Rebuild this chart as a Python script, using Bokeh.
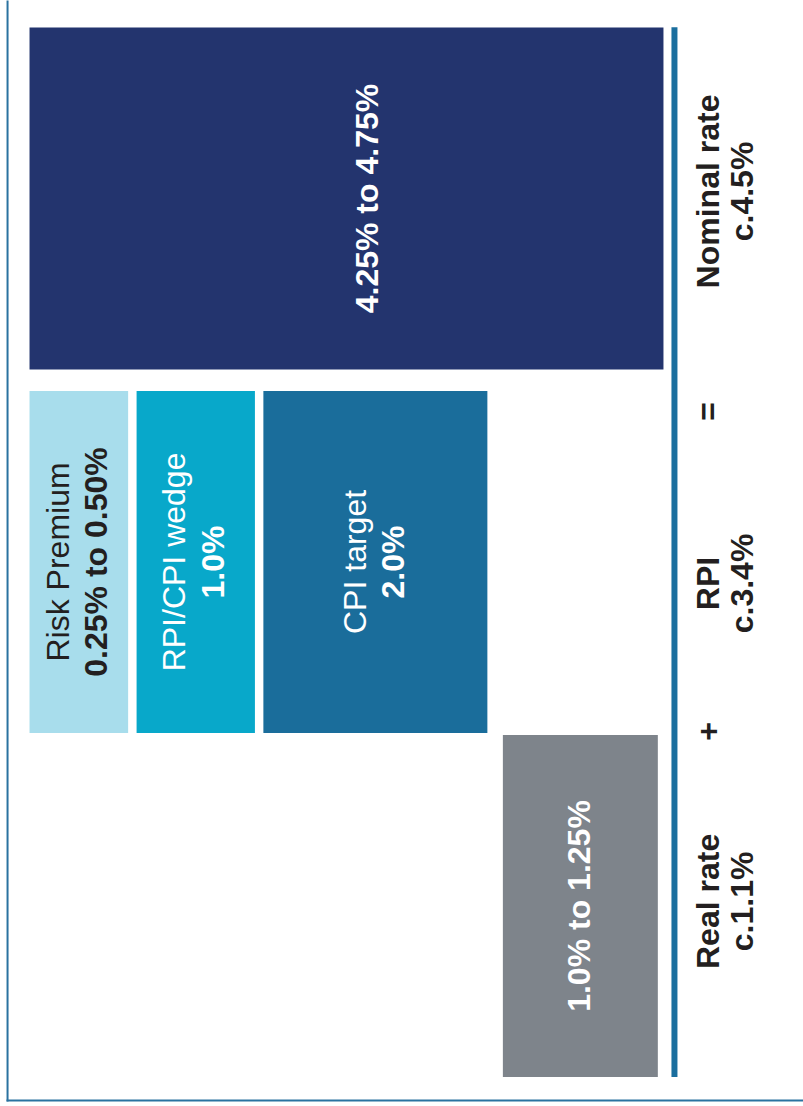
from math import pi
from bokeh.plotting import figure
from bokeh.models import ColumnDataSource, Range1d, FactorRange
from bokeh.transform import dodge
from bokeh.core.properties import value
from bokeh.embed import file_html
from bokeh.resources import INLINE

# ---------------- data ----------------
categories = ["Real rate", "RPI", "Nominal rate"]
category_values = ["c.1.1%", "c.3.4%", "c.4.5%"]
operators = ["+", "="]

segment_names = ["Real rate", "CPI target", "RPI/CPI wedge", "Risk Premium", "Nominal rate"]
segment_category = ["Real rate", "RPI", "RPI", "RPI", "Nominal rate"]
segment_start = [0.04, 1.25, 2.90, 3.80, 0.00]
segment_end = [1.14, 2.84, 3.74, 4.50, 4.50]
segment_titles = ["", "CPI target", "RPI/CPI wedge", "Risk Premium", ""]
segment_value_labels = ["1.0% to 1.25%", "2.0%", "1.0%", "0.25% to 0.50%", "4.25% to 4.75%"]

# ---------------- styles / layout ----------------
segment_colors = ["#7e848b", "#1a6d9b", "#08a8ca", "#a8ddec", "#23346e"]
segment_text_colors = ["white", "white", "white", "#231f20", "white"]
TS = 0.103  # text anchor correction
title_pos = [None, 2.087 + TS, 3.371 + TS, 4.194 + TS, None]
value_pos = [0.497 + TS, 1.817 + TS, 3.094 + TS, 3.925 + TS, 2.001 + TS]
segment_dy = [0.0, -0.024, -0.024, -0.024, 0.007]
cat_label_dy = [0.013, -0.085, 0.027]
LINE1 = -0.419 + TS
LINE2 = -0.660 + TS
FONT = value("Liberation Sans")
DARK = "#231f20"
AXIS_BLUE = "#1a6e9e"
BORDER = "#2a72a0"

p = figure(width=803, height=1106, output_backend="svg", toolbar_location=None,
           title=None,
           x_range=Range1d(start=4.706, end=-0.994),
           y_range=FactorRange(factors=categories, range_padding=0.0688,
                               range_padding_units="absolute"),
           x_axis_location=None, y_axis_location=None, min_border=0,
           background_fill_color="white", border_fill_color="white")
p.outline_line_color = None
p.xgrid.visible = False
p.ygrid.visible = False

# bars
for i in range(len(segment_names)):
    src = ColumnDataSource(dict(cat=[segment_category[i]], left=[segment_start[i]],
                                right=[segment_end[i]]))
    p.hbar(y=dodge("cat", segment_dy[i], range=p.y_range), left="left", right="right",
           height=0.97, source=src, fill_color=segment_colors[i], line_color=None)


def label(cat, dy, xv, txt, color, style, size="32px"):
    src = ColumnDataSource(dict(cat=[cat], x=[xv], t=[txt]))
    p.text(x="x", y=dodge("cat", dy, range=p.y_range), text="t", source=src,
           angle=pi / 2, text_font=FONT, text_font_size=size,
           text_font_style=style, text_color=color,
           text_align="center", text_baseline="alphabetic")


# bar labels
for i in range(len(segment_names)):
    if segment_titles[i]:
        label(segment_category[i], segment_dy[i], title_pos[i], segment_titles[i],
              segment_text_colors[i], "normal")
    label(segment_category[i], segment_dy[i], value_pos[i], segment_value_labels[i],
          segment_text_colors[i], "bold")

# category axis line
axsrc = ColumnDataSource(dict(c0=[categories[0]], c1=[categories[-1]], x=[-0.078]))
p.segment(x0="x", y0=dodge("c0", -0.485, range=p.y_range),
          x1="x", y1=dodge("c1", 0.493, range=p.y_range),
          source=axsrc, line_color=AXIS_BLUE, line_width=6, line_cap="butt")

# category labels
for i, c in enumerate(categories):
    label(c, cat_label_dy[i], LINE1, c, DARK, "bold")
    label(c, cat_label_dy[i], LINE2, category_values[i], DARK, "bold")

# operators between categories
label(categories[0], 0.495, LINE1, operators[0], DARK, "bold")
label(categories[1], 0.403, LINE1, operators[1], DARK, "bold")

# frame border (left and bottom edges of the surrounding box)
bsrc = ColumnDataSource(dict(c0=[categories[0], categories[0]],
                             c1=[categories[-1], categories[0]],
                             x0=[4.656, 4.656], x1=[4.656, -1.2]))
p.segment(x0="x0", y0=dodge("c0", -0.5518, range=p.y_range),
          x1="x1", y1=dodge("c1", 0.8, range=p.y_range),
          source=ColumnDataSource(dict(c0=[categories[0]], c1=[categories[-1]],
                                       x0=[4.656], x1=[4.656])),
          line_color=BORDER, line_width=2, line_cap="square")
p.segment(x0="x0", y0=dodge("c0", -0.5518, range=p.y_range),
          x1="x1", y1=dodge("c0", -0.5518, range=p.y_range),
          source=ColumnDataSource(dict(c0=[categories[0]], x0=[4.656], x1=[-1.2])),
          line_color=BORDER, line_width=2, line_cap="square")

open("out.html", "w").write(file_html(p, INLINE))
